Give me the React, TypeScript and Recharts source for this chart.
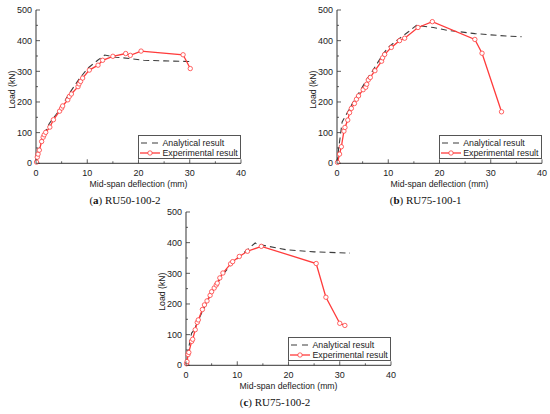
import { LineChart, Line, XAxis, YAxis, Legend } from 'recharts';

const RED = '#ff3b3b';
const DASH = '#3c3c3c';
const AXIS = '#333';
const SANS = '"Liberation Sans", Arial, sans-serif';

const xTicks = [0, 5, 10, 15, 20, 25, 30, 35, 40];
const yTicks = [0, 50, 100, 150, 200, 250, 300, 350, 400, 450, 500];

// (a) RU50-100-2
const expAX = [0.1, 0.25, 0.4, 0.65, 1.1, 1.4, 1.6, 1.9, 2.7, 3.4, 4.6, 5.0, 5.2, 6.2, 6.5, 6.9, 8.2, 8.4, 8.7, 9.1, 10.4, 12.1, 13.0, 15.0, 17.5, 18.4, 20.5, 28.7, 30.1];
const expAY = [4, 20, 30, 43, 71, 85, 93, 101, 118, 142, 170, 180, 187, 207, 218, 226, 250, 259, 267, 278, 304, 320, 336, 349, 358, 352, 366, 354, 309];
const anaAX = [0, 0.6, 1.3, 2.6, 4.6, 6.5, 8.5, 10.1, 12.1, 13.4, 15.6, 18.2, 21, 25, 30.1];
const anaAY = [0, 48, 85, 130, 174, 228, 277, 310, 337, 353, 346, 342, 336, 334, 332];

// (b) RU75-100-1
const expBX = [0.1, 0.5, 0.85, 1.35, 1.55, 2.1, 2.45, 2.8, 3.4, 3.8, 4.2, 5.1, 5.6, 5.8, 6.1, 6.5, 7.4, 8.7, 8.9, 9.3, 10.6, 12.2, 13.2, 15.8, 18.6, 26.9, 28.3, 32.1];
const expBY = [3, 30, 54, 105, 117, 141, 165, 179, 195, 209, 220, 240, 248, 258, 272, 280, 302, 333, 344, 355, 378, 400, 408, 443, 462, 404, 359, 168];
const anaBX = [0, 0.3, 1.0, 2, 3, 4, 5, 6, 7, 8, 9, 10, 12, 14, 15.5, 18.8, 21.4, 26.9, 33, 36];
const anaBY = [0, 45, 135, 165, 195, 222, 250, 278, 303, 330, 357, 378, 405, 430, 450, 443, 434, 423, 415, 413];

// (c) RU75-100-2
const expCX = [0.1, 0.2, 0.4, 0.55, 1.1, 1.3, 1.8, 2.2, 2.4, 3.2, 3.6, 4.1, 4.7, 5.0, 5.5, 5.9, 6.1, 6.6, 7.2, 8.7, 9.1, 10.4, 12.0, 14.7, 25.4, 27.3, 30.0, 31.0];
const expCY = [5, 12, 35, 42, 78, 85, 116, 140, 148, 182, 197, 210, 228, 240, 252, 262, 268, 285, 301, 331, 338, 355, 372, 388, 332, 222, 137, 130];
const anaCX = [0, 0.45, 0.8, 1.1, 1.5, 2.5, 4, 5.5, 7, 9, 11, 13.5, 14.2, 15.1, 19.5, 25, 32];
const anaCY = [0, 46, 84, 105, 113, 150, 205, 250, 292, 333, 363, 399, 392, 391, 377, 370, 366];

const toPoints = (xs: number[], ys: number[]) => xs.map((x, i) => ({ x, y: ys[i] }));

const XTick = (props: any) => {
  const { x, y, payload } = props;
  const major = payload.value % 10 === 0;
  return (
    <g>
      <line x1={x} y1={y} x2={x} y2={y - (major ? 4 : 2)} stroke={AXIS} strokeWidth={0.8} />
      {major && (
        <text x={x} y={y + 12.7} textAnchor="middle" fontSize={9} fill="#222" fontFamily={SANS}>
          {payload.value}
        </text>
      )}
    </g>
  );
};

const YTick = (props: any) => {
  const { x, y, payload } = props;
  const major = payload.value % 100 === 0;
  return (
    <g>
      <line x1={x} y1={y} x2={x + (major ? 4 : 2)} y2={y} stroke={AXIS} strokeWidth={0.8} />
      {major && (
        <text x={x - 4} y={y + 3.2} textAnchor="end" fontSize={9} fill="#222" fontFamily={SANS}>
          {payload.value}
        </text>
      )}
    </g>
  );
};

const xLabel = ({ viewBox }: any) => (
  <text x={viewBox.x + viewBox.width / 2} y={viewBox.y + 23.7} textAnchor="middle" fontSize={8.7} fill="#222" fontFamily={SANS}>
    Mid-span deflection (mm)
  </text>
);

const yLabel = ({ viewBox }: any) => {
  const cx = viewBox.x + 12;
  const cy = viewBox.y + viewBox.height / 2 + 3;
  return (
    <text x={cx} y={cy} transform={`rotate(-90 ${cx} ${cy})`} textAnchor="middle" dominantBaseline="central" fontSize={8.7} fill="#222" fontFamily={SANS}>
      Load (kN)
    </text>
  );
};

const renderLegend = () => (
  <div style={{ width: 103, height: 24, boxSizing: 'border-box', border: '1px solid #555', background: '#fff', fontFamily: SANS, fontSize: 8.8, color: '#222', paddingTop: 2 }}>
    <div style={{ display: 'flex', alignItems: 'center', height: 10 }}>
      <svg width={22} height={8} style={{ flex: 'none' }}>
        <line x1={2} y1={4} x2={20} y2={4} stroke={DASH} strokeWidth={1.1} strokeDasharray="6 5" />
      </svg>
      <span style={{ marginLeft: 1.5, lineHeight: '10px' }}>Analytical result</span>
    </div>
    <div style={{ display: 'flex', alignItems: 'center', height: 10 }}>
      <svg width={22} height={8} style={{ flex: 'none' }}>
        <line x1={1} y1={4} x2={21} y2={4} stroke={RED} strokeWidth={1.3} />
        <circle cx={11} cy={4} r={2.2} stroke={RED} strokeWidth={0.8} fill="#fff" />
      </svg>
      <span style={{ marginLeft: 1.5, lineHeight: '10px' }}>Experimental result</span>
    </div>
  </div>
);

interface PanelProps {
  left: number;
  top: number;
  letter: string;
  name: string;
  exp: { x: number; y: number }[];
  ana: { x: number; y: number }[];
}

const Panel = ({ left, top, letter, name, exp, ana }: PanelProps) => (
  <div style={{ position: 'absolute', left, top, width: 250, height: 212 }}>
    <LineChart width={250} height={193.3} margin={{ top: 10, right: 9, bottom: 0, left: 0 }}>
      <XAxis
        dataKey="x"
        type="number"
        domain={[0, 40]}
        ticks={xTicks}
        interval={0}
        tickSize={0}
        tickMargin={0}
        tickLine={false}
        tick={<XTick />}
        height={30}
        stroke={AXIS}
        label={{ content: xLabel }}
      />
      <YAxis
        dataKey="y"
        type="number"
        domain={[0, 500]}
        ticks={yTicks}
        interval={0}
        tickSize={0}
        tickMargin={0}
        tickLine={false}
        tick={<YTick />}
        width={36}
        stroke={AXIS}
        label={{ content: yLabel }}
      />
      <XAxis xAxisId="top" orientation="top" type="number" domain={[0, 40]} height={0} tick={false} tickLine={false} stroke={AXIS} />
      <YAxis yAxisId="right" orientation="right" type="number" domain={[0, 500]} width={0} tick={false} tickLine={false} stroke={AXIS} />
      <Line
        data={ana}
        dataKey="y"
        type="linear"
        stroke={DASH}
        strokeWidth={1.1}
        strokeDasharray="6 4"
        dot={false}
        activeDot={false}
        isAnimationActive={false}
      />
      <Line
        data={exp}
        dataKey="y"
        type="linear"
        stroke={RED}
        strokeWidth={1.3}
        dot={{ r: 2.2, stroke: RED, strokeWidth: 0.8, fill: '#fff' }}
        activeDot={false}
        isAnimationActive={false}
      />
      <Legend
        content={renderLegend}
        layout="vertical"
        align="center"
        verticalAlign="middle"
        wrapperStyle={{ left: 138, top: 135, width: 103, height: 24 }}
      />
    </LineChart>
    <div
      style={{
        position: 'absolute',
        left: 0,
        top: 194,
        width: 250,
        lineHeight: '12px',
        textAlign: 'center',
        fontFamily: '"Liberation Serif", "Times New Roman", serif',
        fontSize: 11,
        color: '#111',
      }}
    >
      (<b>{letter}</b>) {name}
    </div>
  </div>
);

export default function App() {
  return (
    <div style={{ position: 'absolute', left: 0, top: 0, width: 550, height: 414, background: '#fff', overflow: 'hidden' }}>
      <Panel left={0} top={0} letter="a" name="RU50-100-2" exp={toPoints(expAX, expAY)} ana={toPoints(anaAX, anaAY)} />
      <Panel left={300.7} top={0} letter="b" name="RU75-100-1" exp={toPoints(expBX, expBY)} ana={toPoints(anaBX, anaBY)} />
      <Panel left={150} top={202.3} letter="c" name="RU75-100-2" exp={toPoints(expCX, expCY)} ana={toPoints(anaCX, anaCY)} />
    </div>
  );
}
